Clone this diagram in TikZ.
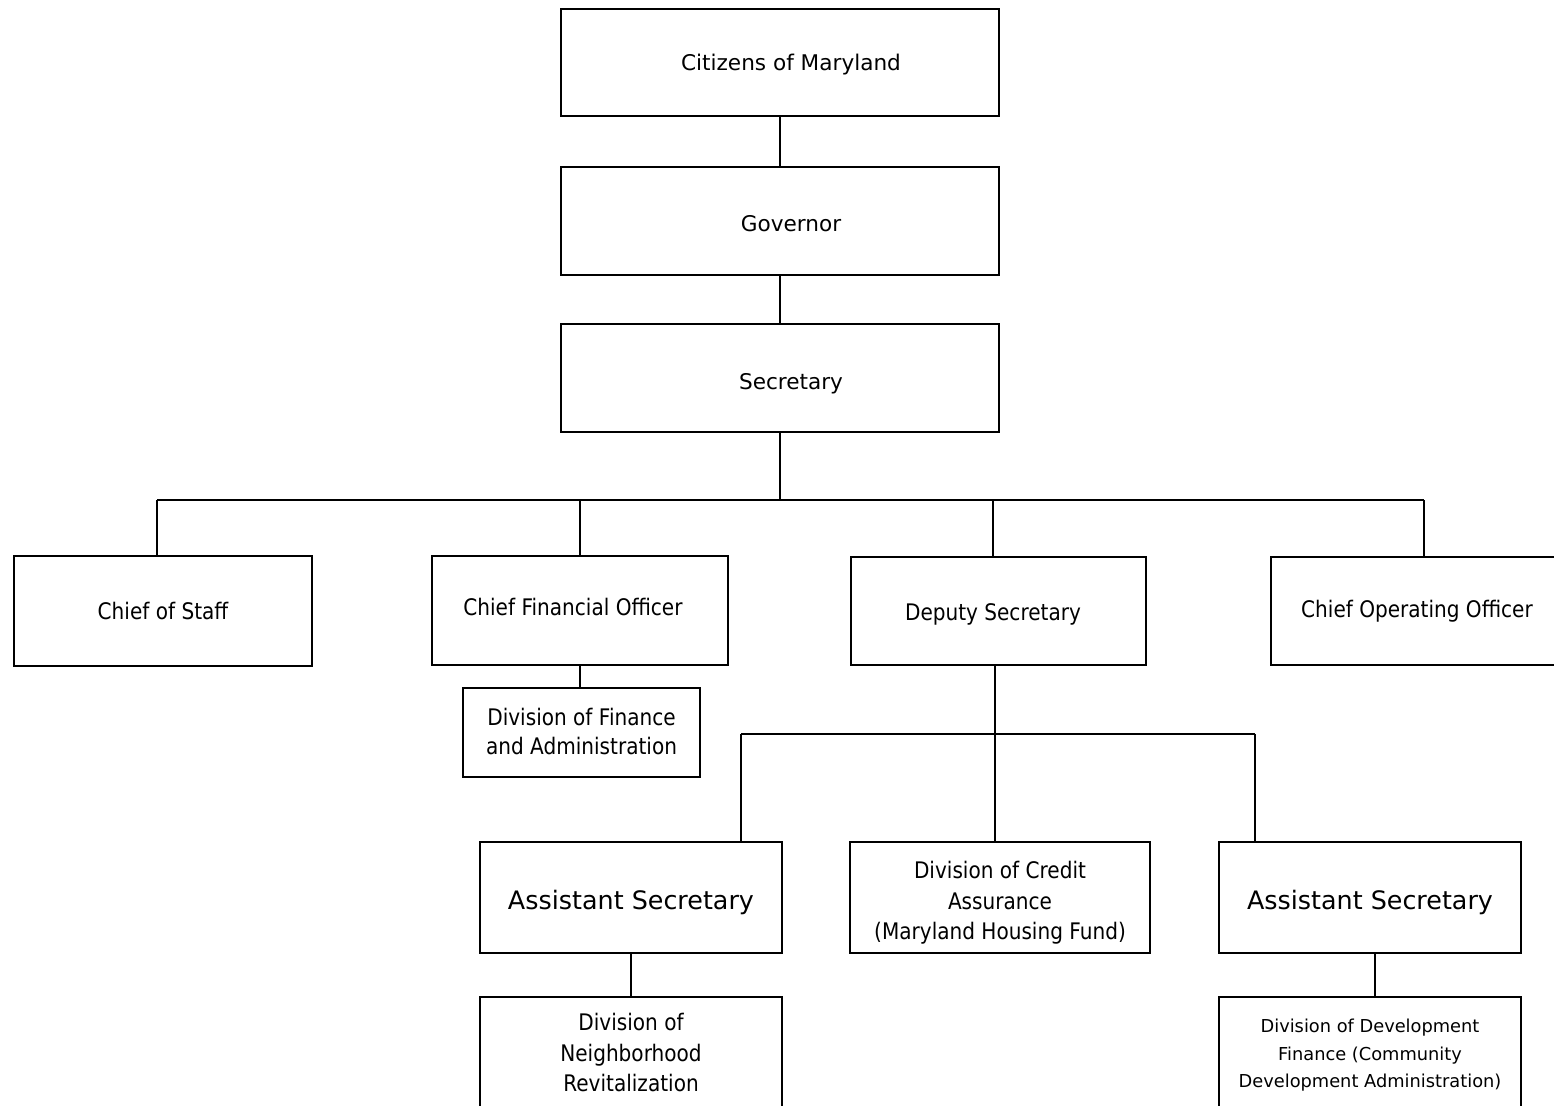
\documentclass[tikz,border=0pt]{standalone}
\usepackage{fontspec}
\setmainfont{DejaVu Sans}
\newfontfamily\condfont[FakeStretch=0.88]{DejaVu Sans}
\newcommand{\nrmtxt}{\fontsize{10.8}{13}\selectfont}
\newcommand{\cndtxt}{\condfont\fontsize{11.4}{15.25}\selectfont}
\newcommand{\bigtxt}{\fontsize{12.7}{15}\selectfont}
\newcommand{\smltxt}{\fontsize{8.9}{13.75}\selectfont}
\begin{document}
\begin{tikzpicture}[x=0.5pt,y=-0.5pt,
  box/.style={draw, line width=0.7pt, inner sep=0pt},
  wide/.style={box, minimum width=219pt, minimum height=54pt},
  mid/.style={box, minimum width=148pt, minimum height=54.5pt},
  low/.style={box, minimum width=151pt, minimum height=55.5pt},
  lbl/.style={align=center, inner sep=0pt},
  link/.style={line width=0.7pt}]
\clip (0,0) rectangle (1554,1106);
\fill[white] (0,0) rectangle (1554,1106);
% top chain
\node[wide, minimum height=53.5pt, label={[lbl, font=\nrmtxt, xshift=5.5pt, yshift=-1pt]center:Citizens of Maryland}] (cit) at (780,62.5) {};
\node[wide, label={[lbl, font=\nrmtxt, xshift=5.5pt, yshift=-1.5pt]center:Governor}] (gov) at (780,221) {};
\node[wide, label={[lbl, font=\nrmtxt, xshift=5.5pt, yshift=-3pt]center:Secretary}] (sec) at (780,378) {};
% second row
\node[mid, minimum width=149pt, minimum height=55pt, label={[lbl, font=\cndtxt]center:Chief of Staff}] (cos) at (163,611) {};
\node[mid, label={[lbl, font=\cndtxt, xshift=-3.5pt, yshift=1.5pt]center:Chief Financial Officer}] (cfo) at (580,610.5) {};
\node[mid, minimum width=147.5pt, minimum height=54pt, label={[lbl, font=\cndtxt, xshift=-2.75pt, yshift=-1.5pt]center:Deputy Secretary}] (dep) at (998.5,611) {};
\node[mid, minimum height=54pt, label={[lbl, font=\cndtxt, xshift=-1pt]center:Chief Operating Officer}] (coo) at (1419,611) {};
\node[box, minimum width=118.5pt, minimum height=44.5pt, label={[lbl, font=\cndtxt\linespread{0.92}\selectfont, yshift=0.5pt]center:Division of Finance\\and Administration}] (dfa) at (581.5,732.5) {};
% third row
\node[low, label={[lbl, font=\bigtxt, yshift=-2.5pt]center:Assistant Secretary}] (as1) at (631,897.5) {};
\node[low, minimum width=150pt, label={[lbl, font=\cndtxt, yshift=-2.75pt]center:Division of Credit\\Assurance\\(Maryland Housing Fund)}] (dca) at (1000,897.5) {};
\node[low, label={[lbl, font=\bigtxt, yshift=-2.5pt]center:Assistant Secretary}] (as2) at (1370,897.5) {};
% fourth row
\node[low, label={[lbl, font=\cndtxt]center:Division of\\Neighborhood\\Revitalization}] (dnr) at (631,1052.5) {};
\node[low, label={[lbl, font=\smltxt, yshift=-1.5pt]center:Division of Development\\Finance (Community\\Development Administration)}] (ddf) at (1370,1052.5) {};
% bus coordinates
\coordinate (busc) at (780,500);
\coordinate (b1) at (157,500);
\coordinate (b2) at (580,500);
\coordinate (b3) at (993,500);
\coordinate (b4) at (1424,500);
\coordinate (dbus) at (995,734);
\coordinate (d1) at (741,734);
\coordinate (d3) at (1255,734);
% connectors
\draw[link] (cit.south) -- (gov.north);
\draw[link] (gov.south) -- (sec.north);
\draw[link] (sec.south) -- (busc);
\draw[link] (b1) -- (b4);
\draw[link] (b1) -- (b1 |- cos.north);
\draw[link] (b2) -- (b2 |- cfo.north);
\draw[link] (b3) -- (b3 |- dep.north);
\draw[link] (b4) -- (b4 |- coo.north);
\draw[link] (cfo.south) -- (cfo.south |- dfa.north);
\draw[link] (dbus |- dep.south) -- (dbus |- dca.north);
\draw[link] (d1) -- (d3);
\draw[link] (d1) -- (d1 |- as1.north);
\draw[link] (d3) -- (d3 |- as2.north);
\draw[link] (as1.south) -- (dnr.north);
\coordinate (e3) at (1375,975);
\draw[link] (e3 |- as2.south) -- (e3 |- ddf.north);
\end{tikzpicture}
\end{document}
